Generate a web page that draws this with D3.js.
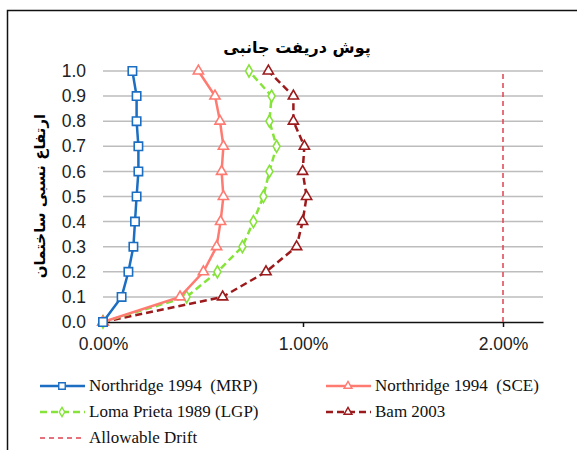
<!DOCTYPE html>
<html lang="en">

<head>
  <meta charset="utf-8">
  <title>Drift envelope</title>
  <style>
    body {
      margin: 0;
      background: #fff;
    }

    .grid line {
      stroke: #bdbdbd;
      stroke-width: 1.5;
    }

    .tick text {
      font-family: "Liberation Sans", Arial, sans-serif;
      font-size: 17.5px;
      fill: #222;
    }

    .leg {
      font-family: "Times New Roman", Times, "DejaVu Serif", serif;
      font-size: 17px;
      fill: #111;
      white-space: pre;
    }
  </style>
</head>

<body>
  <div id="chart"></div>
</body>
<script src="https://d3js.org/d3.v7.min.js"></script>

<script>
  // relative height of building (y) and drift in percent (x)
  let heights = [0.0, 0.1, 0.2, 0.3, 0.4, 0.5, 0.6, 0.7, 0.8, 0.9, 1.0];
  let mrp = [0, 0.093, 0.127, 0.152, 0.16, 0.168, 0.177, 0.177, 0.168, 0.168, 0.147];
  let sce = [0, 0.385, 0.502, 0.568, 0.588, 0.602, 0.593, 0.602, 0.585, 0.56, 0.477];
  let lgp = [0, 0.418, 0.572, 0.697, 0.752, 0.802, 0.832, 0.868, 0.832, 0.843, 0.73];
  let bam = [0, 0.598, 0.815, 0.968, 0.998, 1.018, 0.998, 1.007, 0.952, 0.952, 0.827];
  let allowable = [2.0, 2.0];
  let allowableH = [0.0, 1.0];
  let xTicks = [0, 1, 2];
  let seriesNames = ["Northridge 1994  (MRP)", "Northridge 1994  (SCE)", "Loma Prieta 1989 (LGP)", "Bam 2003", "Allowable Drift"];

  let width = 577, height = 450;

  let svg = d3.select("#chart")
    .append("svg")
    .attr("width", width)
    .attr("height", height);

  // outer frame
  svg.append("rect")
    .attr("x", 7.5).attr("y", 10.5)
    .attr("width", 600).attr("height", 500)
    .attr("fill", "none")
    .attr("stroke", "#111")
    .attr("stroke-width", 1.5);

  let x = d3.scaleLinear().domain([0, 2.2]).range([103, 543]);
  let y = d3.scaleLinear().domain([0, 1]).range([322, 71]);

  // gridlines
  svg.append("g")
    .attr("class", "grid")
    .selectAll("line")
    .data(heights.slice(1))
    .enter()
    .append("line")
    .attr("x1", x(0)).attr("x2", x(2.2))
    .attr("y1", d => y(d)).attr("y2", d => y(d));

  // y axis (labels only)
  let yAxis = svg.append("g")
    .attr("transform", "translate(" + x(0) + ",0)")
    .call(d3.axisLeft(y).tickValues(heights).tickFormat(d3.format(".1f")).tickSize(0).tickPadding(17));
  yAxis.select(".domain").remove();

  // x axis
  let xAxis = svg.append("g")
    .attr("transform", "translate(0," + y(0) + ")")
    .call(d3.axisBottom(x).tickValues(xTicks).tickFormat(d => d.toFixed(2) + "%").tickSize(5).tickSizeOuter(0).tickPadding(11));
  xAxis.select(".domain").attr("stroke", "#111").attr("stroke-width", 1.5);
  xAxis.selectAll(".tick line").attr("stroke", "#111").attr("stroke-width", 1.5);

  // title
  svg.append("text")
    .attr("x", 297).attr("y", 53)
    .attr("text-anchor", "middle")
    .attr("direction", "rtl")
    .style("font", "bold 16px 'DejaVu Sans', sans-serif")
    .text("پوش دریفت جانبی");

  // y label
  svg.append("text")
    .attr("transform", "translate(45,196) rotate(-90)")
    .attr("text-anchor", "middle")
    .attr("direction", "rtl")
    .style("font", "bold 15px 'DejaVu Sans', sans-serif")
    .text("ارتفاع نسبی ساختمان");

  let line = d3.line()
    .x(d => x(d[0]))
    .y(d => y(d[1]));

  let series = [
    { vals: mrp, hs: heights, color: "#1b6ec2", dash: null, width: 2.5, marker: "square" },
    { vals: sce, hs: heights, color: "#ff7b72", dash: null, width: 2.5, marker: "triangle" },
    { vals: lgp, hs: heights, color: "#86e33a", dash: "7,4", width: 2.5, marker: "diamond" },
    { vals: bam, hs: heights, color: "#9c1a1c", dash: "7,4", width: 2.5, marker: "triangle" },
    { vals: allowable, hs: allowableH, color: "#e0434f", dash: "5,4", width: 1.5, marker: null }
  ];

  let symbolType = {
    square: d3.symbolSquare,
    triangle: d3.symbolTriangle,
    diamond: d3.symbolDiamond
  };
  let symbolSize = { square: 70, triangle: 45, diamond: 42 };

  // draw in reverse so MRP sits on top
  series.slice().reverse().forEach(s => {
    let pts = s.vals.map((v, i) => [v, s.hs[i]]);
    svg.append("path")
      .datum(pts)
      .attr("d", line)
      .attr("fill", "none")
      .attr("stroke", s.color)
      .attr("stroke-width", s.width)
      .attr("stroke-dasharray", s.dash);
    if (s.marker) {
      svg.selectAll(null)
        .data(pts)
        .enter()
        .append("path")
        .attr("d", d3.symbol().type(symbolType[s.marker]).size(symbolSize[s.marker]))
        .attr("transform", d => "translate(" + x(d[0]) + "," + y(d[1]) + ")")
        .attr("fill", "#fff")
        .attr("stroke", s.color)
        .attr("stroke-width", 1.6);
    }
  });

  // legend
  let legendPos = [[40, 386], [326, 386], [40, 412], [326, 412], [40, 438]];
  let legend = svg.append("g");
  series.forEach((s, i) => {
    let p = legendPos[i];
    let g = legend.append("g").attr("transform", "translate(" + p[0] + "," + p[1] + ")");
    g.append("line")
      .attr("x1", 0).attr("x2", 45)
      .attr("stroke", s.color)
      .attr("stroke-width", s.width)
      .attr("stroke-dasharray", s.dash);
    if (s.marker) {
      g.append("path")
        .attr("d", d3.symbol().type(symbolType[s.marker]).size(symbolSize[s.marker] * 0.6))
        .attr("transform", "translate(22,0)")
        .attr("fill", "#fff")
        .attr("stroke", s.color)
        .attr("stroke-width", 1.4);
    }
    g.append("text")
      .attr("class", "leg")
      .attr("x", 49).attr("y", 5)
      .text(seriesNames[i]);
  });
</script>
</html>
